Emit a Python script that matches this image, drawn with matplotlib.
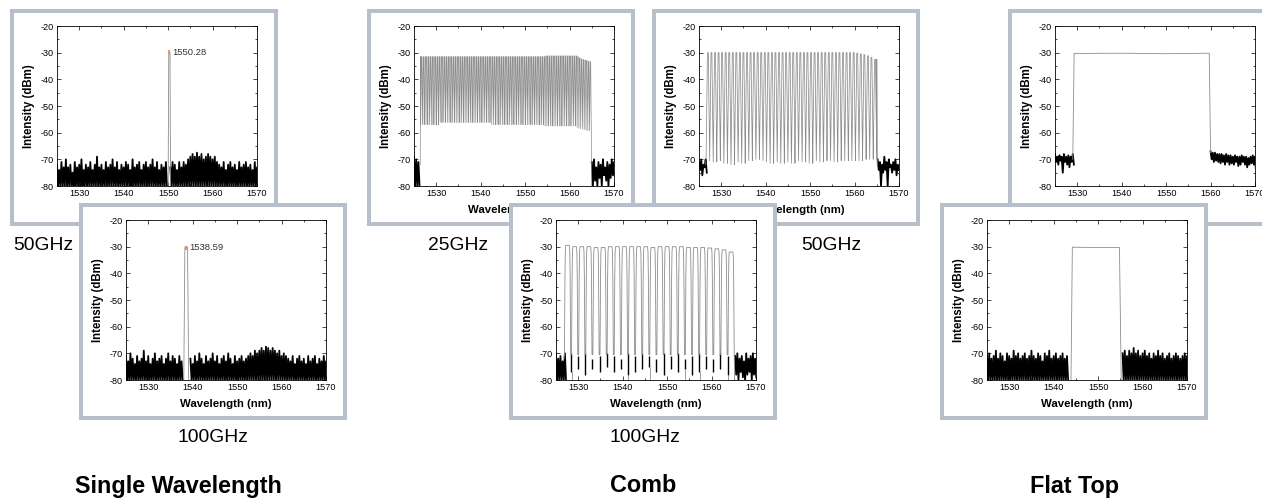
import numpy as np
import matplotlib
matplotlib.use('Agg')
import matplotlib.pyplot as plt
from matplotlib.patches import Rectangle
from matplotlib.ticker import MultipleLocator
from matplotlib import font_manager

W, H = 1262, 501
plt.rcParams.update({'font.family': 'Liberation Sans', 'axes.linewidth': 0.6, 'axes.unicode_minus': False})
installed = {f.name for f in font_manager.fontManager.ttflist}
NARROW = 'Liberation Sans Narrow' if 'Liberation Sans Narrow' in installed else 'Liberation Sans'
NS = 1.0 if NARROW == 'Liberation Sans Narrow' else 0.84

FRAME = '#b7c0ca'
TRACE = '#8c8c8c'
NOISE = 'black'

### wavelength (nm) / intensity (dBm)
x_ticks = [1530, 1540, 1550, 1560, 1570]
y_ticks = [-80, -70, -60, -50, -40, -30, -20]

# single wavelength, 50GHz (peak at 1550.28)
sw50_peak_x = [1550.0, 1550.15, 1550.28, 1550.42, 1550.55]
sw50_peak_y = [-80, -30, -29.3, -30, -80]
sw50_noise = [
    (1525.0, [-72, -74, -71, -73, -70, -73, -72, -75, -71, -73, -72, -70, -74, -72, -73, -71, -74,
              -72, -69, -73, -72, -74, -71, -73, -72, -70, -73, -71, -74, -72, -73, -71, -72, -74,
              -70, -73, -72, -71, -74, -72, -71, -73, -72, -70, -73, -71, -74, -72, -73, -71], -80),
    (1550.5, [-73, -71, -72, -74, -71, -73, -71, -72, -70,
              -69, -68, -69, -67.5, -69, -68, -70, -69, -68, -69, -70, -69, -71,
              -72, -73, -71, -74, -72, -71, -73, -72, -74, -71, -73, -72, -71, -73, -72, -74, -71, -73], -80),
]

# single wavelength, 100GHz (peak at 1538.59)
sw100_peak_x = [1538.0, 1538.25, 1538.59, 1538.85, 1539.1]
sw100_peak_y = [-80, -30.2, -29.8, -30.2, -80]
sw100_noise = [
    (1525.0, [-71, -73, -70, -72, -74, -71, -73, -72, -69, -73, -71, -74, -72, -70, -73, -72, -71,
              -74, -72, -70, -73, -71, -72, -74, -71, -73], -80),
    (1539.5, [-72, -74, -71, -73, -70, -72, -74, -71, -73, -72, -70, -73, -71, -74, -72, -71, -73,
              -70, -72, -74, -71, -73, -72, -71, -73, -72, -71,
              -70, -71, -69, -70, -69, -68, -69, -67.5, -68, -69, -68, -69, -70, -69, -71, -70, -71,
              -72, -73, -71, -74, -72, -71, -73, -72, -74, -71, -73, -72, -71, -74, -72, -73, -71, -73], -80),
]

# comb 25GHz
c25_first, c25_step = 1526.7, 0.4
c25_peaks = [-31.5] * 70 + [-31.2] * 18 + [-31.5, -32.0, -32.3, -32.6, -32.8, -33.0, -33.2, -33.4]
c25_troughs = ([-57.0] * 10 + [-56.2] * 30 + [-57.0] * 30 + [-57.5] * 18
               + [-58.0, -58.3, -58.5, -58.7, -58.8, -59.0, -59.2, -59.3])
c25_edges_x = [1526.4, 1526.5, 1564.9, 1565.0]
c25_edges_y = [-72, -31.5, -59.3, -80]
c25_noise = [
    (1525.0, [-69, -70, -71], -80),
    (1565.0, [-71, -70, -73, -71, -72, -70, -73, -71, -72, -70, -71], [-80, -78, -80, -77, -80, -76, -78, -80, -77, -76, -78]),
]

# comb 50GHz
c50_first, c50_step = 1527.0, 0.8
c50_peaks = [-30.0] * 42 + [-30.2, -30.5, -30.8, -31.2, -31.8, -32.5]
c50_troughs = [-70.0, -70.5, -71.0, -70.5, -70.0, -71.5, -71.0, -72.0, -70.5, -71.0,
               -71.5, -70.0, -70.5, -69.5, -70.0, -69.5, -70.5, -71.0, -71.5, -70.5,
               -71.0, -71.5, -70.5, -71.0, -71.5, -70.0, -70.5, -71.0, -70.5, -71.5,
               -70.0, -70.5, -71.0, -70.5, -70.0, -70.5, -71.0, -70.5, -70.0, -70.5,
               -70.0, -70.5, -70.0, -70.5, -70.0, -69.5, -70.0, -70.0]
c50_edges_x = [1526.5, 1526.6, 1565.0, 1565.1]
c50_edges_y = [-72, -70, -32.5, -72]
c50_noise = [
    (1525.0, [-71, -70, -72, -70], [-74, -76, -73, -75]),
    (1565.2, [-70, -71, -72, -69, -71, -70, -72, -71, -70, -72],
     [-74, -80, -75, -74, -80, -73, -75, -74, -76, -74]),
]

# comb 100GHz
c100_first, c100_step = 1527.6, 1.6
c100_peaks = [-29.5, -30.0, -30.0, -30.0, -30.3, -30.3, -30.0, -30.0, -30.0, -30.0, -30.0, -30.0,
              -30.3, -30.0, -30.0, -30.0, -30.0, -30.3, -30.3, -30.3, -30.5, -30.8, -31.2, -32.0]
c100_troughs = [-70.5] * 24
c100_gap_tops = [-70, -71, -70, -72, -71, -70, -71, -72, -70, -71, -70, -71,
                 -72, -70, -71, -70, -72, -71, -70, -71, -72, -70, -71]
c100_gap_lows = [-77, -76, -78, -76, -77, -75, -77, -76, -78, -77, -76, -75,
                 -77, -78, -76, -77, -76, -78, -77, -76, -77, -76, -78]
c100_dips = [0, 8, 11, 16, 18, 22]
c100_edges_x = [1526.8, 1526.9, 1565.1, 1565.2]
c100_edges_y = [-72, -70.5, -70.5, -80]
c100_noise = [
    (1525.0, [-70, -72, -71, -73, -70], -80),
    (1565.3, [-71, -70, -72, -71, -73, -70, -72, -71, -70, -72],
     [-78, -80, -77, -79, -80, -78, -77, -80, -78, -79]),
]

# flat top, wide
ft_wide_x = [1529.0, 1529.3, 1540.0, 1550.0, 1559.7, 1560.0]
ft_wide_y = [-70, -30.3, -30.2, -30.4, -30.2, -67.5]
ft_wide_noise = [
    (1525.0, [-68, -69, -68.5, -69, -68, -69, -68.5, -69, -68],
     [-71, -72, -70.5, -75, -71, -72, -73, -71, -72]),
    (1560.0, [-67, -67.5, -67.5, -68, -68, -68, -68.5, -68, -68.5, -68.5, -69,
              -68.5, -69, -69, -68.5, -69, -69, -69.5, -69, -68.5, -69],
     [-70, -71, -70.5, -71, -71.5, -71, -72, -71, -72, -71.5, -72,
      -71, -72.5, -72, -71, -72, -73, -72, -71.5, -72, -75]),
]

# flat top, narrow
ft_narrow_x = [1543.9, 1544.2, 1549.0, 1554.8, 1555.2]
ft_narrow_y = [-80, -30.2, -30.3, -30.3, -80]
ft_narrow_noise = [
    (1525.0, [-71, -70, -72, -71, -69, -72, -70, -71, -73, -70, -71, -72, -69, -71, -70, -72, -71,
              -70, -72, -71, -69, -71, -72, -70, -71, -73, -70, -71, -69, -72, -71, -70, -72, -71,
              -70, -72, -71], -80),
    (1555.5, [-70, -69, -71, -69, -70, -68, -70, -69, -71, -70, -69, -71, -70, -72, -70, -71, -69,
              -71, -70, -72, -71, -70, -72, -71, -70, -71, -72, -71, -70, -71], -80),
]

### frame boxes (px, top-left corner) and captions
FW, FH = 264, 213
frames = {
    'sw50': (12, 11), 'c25': (369, 11), 'c50': (654, 11), 'ftw': (1010, 11),
    'sw100': (81, 205), 'c100': (511, 205), 'ftn': (942, 205),
}
captions = [('50GHz', 43, 245), ('25GHz', 458, 245), ('50GHz', 831, 245),
            ('100GHz', 213, 437), ('100GHz', 645, 437)]
titles = [('Single Wavelength', 178, 486), ('Comb', 643, 486), ('Flat Top', 1075, 486)]


def px_rect(x, y, w, h):
    return [x / W, 1 - (y + h) / H, w / W, h / H]


def draw_noise(ax, segments):
    for start, tops, lows in segments:
        tops = np.asarray(tops, float)
        lows = np.broadcast_to(np.asarray(lows, float), tops.shape)
        x = start + 0.5 * np.arange(len(tops))
        xs = np.empty(2 * len(x))
        ys = np.empty(2 * len(x))
        xs[0::2], xs[1::2] = x, x + 0.25
        ys[0::2], ys[1::2] = tops, lows
        ax.plot(xs, ys, color=NOISE, lw=1.3, zorder=2)


def comb(first, step, peaks, troughs, dx, w):
    xs, ys = [], []
    for i, (p, t) in enumerate(zip(peaks, troughs)):
        c = first + i * step
        for d, f in zip(dx, w):
            xs.append(c + d)
            ys.append(t + f * (p - t))
    return xs, ys


def panel(key, z):
    fx, fy = frames[key]
    axf = fig.add_axes(px_rect(fx, fy, FW, FH), zorder=z)
    axf.axis('off')
    axf.add_patch(Rectangle((0, 0), 1, 1, transform=axf.transAxes, facecolor='white',
                            edgecolor=FRAME, linewidth=2.9, clip_on=False))
    ax = fig.add_axes(px_rect(fx + 45, fy + 15, 200, 160), zorder=z + 1)
    ax.set_xlim(1525, 1570)
    ax.set_ylim(-80, -20)
    ax.set_xticks(x_ticks)
    ax.set_yticks(y_ticks)
    ax.xaxis.set_minor_locator(MultipleLocator(5))
    ax.yaxis.set_minor_locator(MultipleLocator(5))
    ax.tick_params(which='both', direction='in', top=True, right=True, width=0.5, pad=2.5)
    ax.tick_params(which='major', length=3)
    ax.tick_params(which='minor', length=1.5)
    for lab in ax.get_xticklabels() + ax.get_yticklabels():
        lab.set_fontfamily(NARROW)
        lab.set_fontsize(7.8 * NS)
    ax.set_xlabel('Wavelength (nm)', fontsize=8.2, fontweight='bold', labelpad=4.5)
    ax.set_ylabel('Intensity (dBm)', fontsize=8.3, fontweight='bold', labelpad=3.5)
    return ax


fig = plt.figure(figsize=(W / 100, H / 100), dpi=100)

# top row first, bottom row overlaps it
ax = panel('sw50', 1)
draw_noise(ax, sw50_noise)
ax.plot(sw50_peak_x, sw50_peak_y, color=TRACE, lw=0.6, zorder=3)
ax.plot(sw50_peak_x[2], sw50_peak_y[2] - 0.6, marker='|', ms=3.5, mew=1.4, color='#f0906f', zorder=4)
ax.text(1550.9, -30, '1550.28', fontsize=6.8, color='#333333', va='center')

ax = panel('c25', 3)
draw_noise(ax, c25_noise)
cx, cy = comb(c25_first, c25_step, c25_peaks, c25_troughs, [-0.2, -0.05, 0.05, 0.2], [0, 1, 1, 0])
ax.plot(c25_edges_x[:2] + cx + c25_edges_x[2:], c25_edges_y[:2] + cy + c25_edges_y[2:],
        color=TRACE, lw=0.5, zorder=3)

ax = panel('c50', 5)
draw_noise(ax, c50_noise)
cx, cy = comb(c50_first, c50_step, c50_peaks, c50_troughs, [-0.4, -0.1, 0.1, 0.4], [0, 1, 1, 0])
ax.plot(c50_edges_x[:2] + cx + c50_edges_x[2:], c50_edges_y[:2] + cy + c50_edges_y[2:],
        color=TRACE, lw=0.55, zorder=3)

ax = panel('ftw', 7)
draw_noise(ax, ft_wide_noise)
ax.plot(ft_wide_x, ft_wide_y, color=TRACE, lw=0.6, zorder=3)

ax = panel('sw100', 9)
draw_noise(ax, sw100_noise)
ax.plot(sw100_peak_x, sw100_peak_y, color=TRACE, lw=0.6, zorder=3)
ax.plot(sw100_peak_x[2], sw100_peak_y[2] - 0.6, marker='|', ms=3.5, mew=1.4, color='#f0906f', zorder=4)
ax.text(1539.3, -30.5, '1538.59', fontsize=6.8, color='#333333', va='center')

ax = panel('c100', 11)
draw_noise(ax, c100_noise)
cx, cy = comb(c100_first, c100_step, c100_peaks, c100_troughs,
              [-0.7, -0.58, -0.5, -0.4, 0.4, 0.5, 0.58, 0.7], [0, 0.72, 0.95, 1, 1, 0.95, 0.72, 0])
ax.plot(c100_edges_x[:2] + cx + c100_edges_x[2:], c100_edges_y[:2] + cy + c100_edges_y[2:],
        color=TRACE, lw=0.6, zorder=3)
gap_x = c100_first + c100_step * (np.arange(len(c100_gap_tops)) + 0.5)
ax.vlines(gap_x, c100_gap_lows, c100_gap_tops, color=NOISE, lw=1.0, zorder=2)
ax.vlines(gap_x[c100_dips] + 0.1, -80, np.array(c100_gap_lows)[c100_dips], color=TRACE, lw=0.6, zorder=2)

ax = panel('ftn', 13)
draw_noise(ax, ft_narrow_noise)
ax.plot(ft_narrow_x, ft_narrow_y, color=TRACE, lw=0.6, zorder=3)

for s, x, y in captions:
    fig.text(x / W, 1 - y / H, s, fontsize=16.5 * NS, family=NARROW, ha='center', va='center', zorder=20)
for s, x, y in titles:
    fig.text(x / W, 1 - y / H, s, fontsize=20 * NS, family=NARROW, fontweight='bold',
             ha='center', va='center', zorder=20)

fig.savefig('out.png', dpi=100)
